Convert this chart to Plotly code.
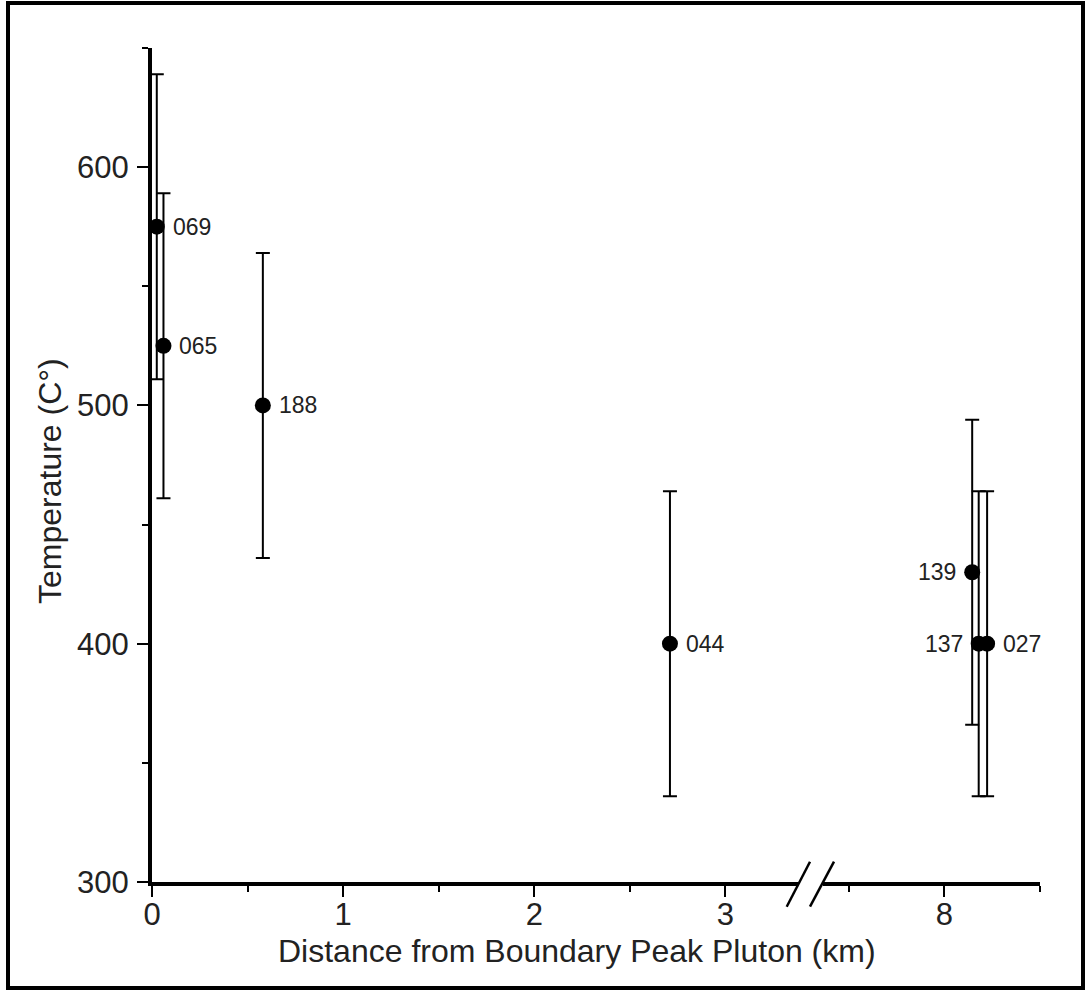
import plotly.graph_objects as go

# ---- data ----
samples_left = ["069", "065", "188", "044"]
dist_left = [0.025, 0.06, 0.58, 2.71]
temp_left = [575, 525, 500, 400]
err_left = [64, 64, 64, 64]
side_left = ["right", "right", "right", "right"]

samples_right = ["139", "137", "027"]
dist_right = [8.146, 8.18, 8.224]
temp_right = [430, 400, 400]
err_right = [64, 64, 64]
side_right = ["left", "left", "right"]

x_ticks_left = [0, 1, 2, 3]
x_minor_left = [0.5, 1.5, 2.5]
x_ticks_right = [8]
x_minor_right = [7.5, 8.5]
y_ticks = [300, 400, 500, 600]

FONT = "Liberation Sans, Arial, sans-serif"
TXT = "#222222"

fig = go.Figure()

fig.add_trace(go.Scatter(
    x=dist_left, y=temp_left, mode="markers",
    marker=dict(color="black", size=16),
    error_y=dict(type="data", array=err_left, symmetric=True, color="black", thickness=2, width=7),
    xaxis="x", yaxis="y", showlegend=False, cliponaxis=False,
))
fig.add_trace(go.Scatter(
    x=dist_right, y=temp_right, mode="markers",
    marker=dict(color="black", size=16),
    error_y=dict(type="data", array=err_right, symmetric=True, color="black", thickness=2, width=7),
    xaxis="x2", yaxis="y", showlegend=False, cliponaxis=False,
))

# point labels
for names, xs, ys, sides, xr in [(samples_left, dist_left, temp_left, side_left, "x"),
                                  (samples_right, dist_right, temp_right, side_right, "x2")]:
    for n, xv, yv, s in zip(names, xs, ys, sides):
        fig.add_annotation(text=n, x=xv, y=yv, xref=xr, yref="y", showarrow=False,
                           xanchor="left" if s == "right" else "right", yanchor="middle",
                           xshift=14 if s == "right" else -14,
                           font=dict(family=FONT, size=23, color=TXT))

W, H = 1087, 991
L, R, T, B = 152, 47, 48, 109
pw, ph = W - L - R, H - T - B

def px(xp):
    return (xp - L) / pw

def py(yp):
    return (H - B - yp) / ph

axis_common = dict(
    showgrid=False, zeroline=False, showline=True, linecolor="black", linewidth=4,
    ticks="outside", ticklen=11, tickwidth=2, tickcolor="black",
    tickfont=dict(family=FONT, size=31, color=TXT),
)

fig.update_layout(
    width=W, height=H,
    margin=dict(l=L, r=R, t=T, b=B, pad=0),
    paper_bgcolor="white", plot_bgcolor="white",
    xaxis=dict(domain=[0, px(798)], range=[0, 3.38], anchor="y",
               tickmode="array", tickvals=x_ticks_left, ticktext=[str(v) for v in x_ticks_left],
               minor=dict(tickmode="array", tickvals=x_minor_left, ticks="outside", ticklen=6, tickwidth=2, tickcolor="black"),
               ticklabelstandoff=-9, **axis_common),
    xaxis2=dict(domain=[px(823), 1], range=[7.366, 8.5005], anchor="y",
                tickmode="array", tickvals=x_ticks_right, ticktext=[str(v) for v in x_ticks_right],
                minor=dict(tickmode="array", tickvals=x_minor_right, ticks="outside", ticklen=6, tickwidth=2, tickcolor="black"),
                ticklabelstandoff=-9, **axis_common),
    yaxis=dict(range=[300, 650], anchor="x",
               tickmode="array", tickvals=y_ticks, ticktext=[str(v) for v in y_ticks],
               minor=dict(dtick=50, tick0=0, ticks="outside", ticklen=6, tickwidth=2, tickcolor="black"),
               ticklabelstandoff=2, **axis_common),
    font=dict(family=FONT, color=TXT),
)

# axis titles
fig.add_annotation(text="Distance from Boundary Peak Pluton (km)", xref="paper", yref="paper",
                   x=px(576.5), y=py(951), showarrow=False, xanchor="center", yanchor="middle",
                   font=dict(family=FONT, size=32, color=TXT))
fig.add_annotation(text="Temperature (C°)", xref="paper", yref="paper", textangle=-90,
                   x=px(50), y=py(481), showarrow=False, xanchor="center", yanchor="middle",
                   font=dict(family=FONT, size=32, color=TXT))

# axis break marks
for x0, x1 in [(786.7, 810), (810, 834)]:
    fig.add_shape(type="line", xref="paper", yref="paper",
                  x0=px(x0), y0=py(906.7), x1=px(x1), y1=py(861.7),
                  line=dict(color="black", width=2.5))

# outer frame
fig.add_shape(type="rect", xref="paper", yref="paper",
              x0=px(8), x1=px(1083), y0=py(988), y1=py(3),
              line=dict(color="black", width=4), fillcolor="rgba(0,0,0,0)", layer="above")

fig.write_html("out.html", config={"displayModeBar": False},
               post_script="document.body.style.margin='0';document.body.style.overflow='hidden';")
